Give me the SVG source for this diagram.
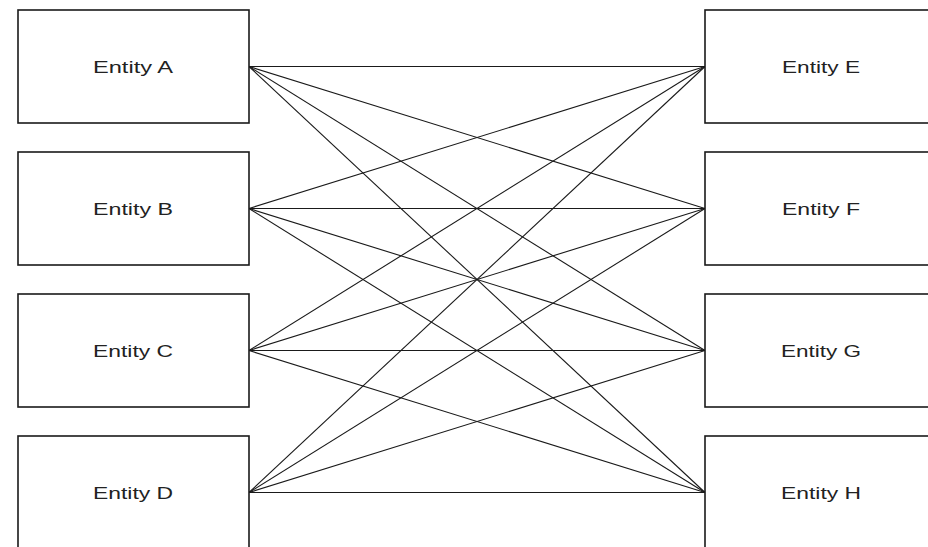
<svg xmlns="http://www.w3.org/2000/svg" width="928" height="547" viewBox="0 0 928 547">
<style>
.box{fill:#ffffff;stroke:#1a1a1a;stroke-width:1.6}
.lbl{font-family:"Liberation Sans",Arial,sans-serif;font-size:16px;fill:#222;text-anchor:middle}
.edge{stroke:#1a1a1a;stroke-width:1.1;fill:none}
</style>
<rect width="928" height="547" fill="#ffffff"/>
<g id="connectors">
<line class="edge" x1="249" y1="66.5" x2="705" y2="66.5"/>
<line class="edge" x1="249" y1="66.5" x2="705" y2="208.5"/>
<line class="edge" x1="249" y1="66.5" x2="705" y2="350.5"/>
<line class="edge" x1="249" y1="66.5" x2="705" y2="492.5"/>
<line class="edge" x1="249" y1="208.5" x2="705" y2="66.5"/>
<line class="edge" x1="249" y1="208.5" x2="705" y2="208.5"/>
<line class="edge" x1="249" y1="208.5" x2="705" y2="350.5"/>
<line class="edge" x1="249" y1="208.5" x2="705" y2="492.5"/>
<line class="edge" x1="249" y1="350.5" x2="705" y2="66.5"/>
<line class="edge" x1="249" y1="350.5" x2="705" y2="208.5"/>
<line class="edge" x1="249" y1="350.5" x2="705" y2="350.5"/>
<line class="edge" x1="249" y1="350.5" x2="705" y2="492.5"/>
<line class="edge" x1="249" y1="492.5" x2="705" y2="66.5"/>
<line class="edge" x1="249" y1="492.5" x2="705" y2="208.5"/>
<line class="edge" x1="249" y1="492.5" x2="705" y2="350.5"/>
<line class="edge" x1="249" y1="492.5" x2="705" y2="492.5"/>
</g>
<g id="entity-a"><rect class="box" x="18" y="10" width="231" height="113"/><text class="lbl" x="133" y="72.5" textLength="80" lengthAdjust="spacingAndGlyphs">Entity A</text></g>
<g id="entity-b"><rect class="box" x="18" y="152" width="231" height="113"/><text class="lbl" x="133" y="214.5" textLength="80" lengthAdjust="spacingAndGlyphs">Entity B</text></g>
<g id="entity-c"><rect class="box" x="18" y="294" width="231" height="113"/><text class="lbl" x="133" y="356.5" textLength="80" lengthAdjust="spacingAndGlyphs">Entity C</text></g>
<g id="entity-d"><rect class="box" x="18" y="436" width="231" height="113"/><text class="lbl" x="133" y="498.5" textLength="80" lengthAdjust="spacingAndGlyphs">Entity D</text></g>
<g id="entity-e"><rect class="box" x="705" y="10" width="240" height="113"/><text class="lbl" x="821" y="72.5" textLength="78" lengthAdjust="spacingAndGlyphs">Entity E</text></g>
<g id="entity-f"><rect class="box" x="705" y="152" width="240" height="113"/><text class="lbl" x="821" y="214.5" textLength="78" lengthAdjust="spacingAndGlyphs">Entity F</text></g>
<g id="entity-g"><rect class="box" x="705" y="294" width="240" height="113"/><text class="lbl" x="821" y="356.5" textLength="80" lengthAdjust="spacingAndGlyphs">Entity G</text></g>
<g id="entity-h"><rect class="box" x="705" y="436" width="240" height="113"/><text class="lbl" x="821" y="498.5" textLength="80" lengthAdjust="spacingAndGlyphs">Entity H</text></g>
</svg>
